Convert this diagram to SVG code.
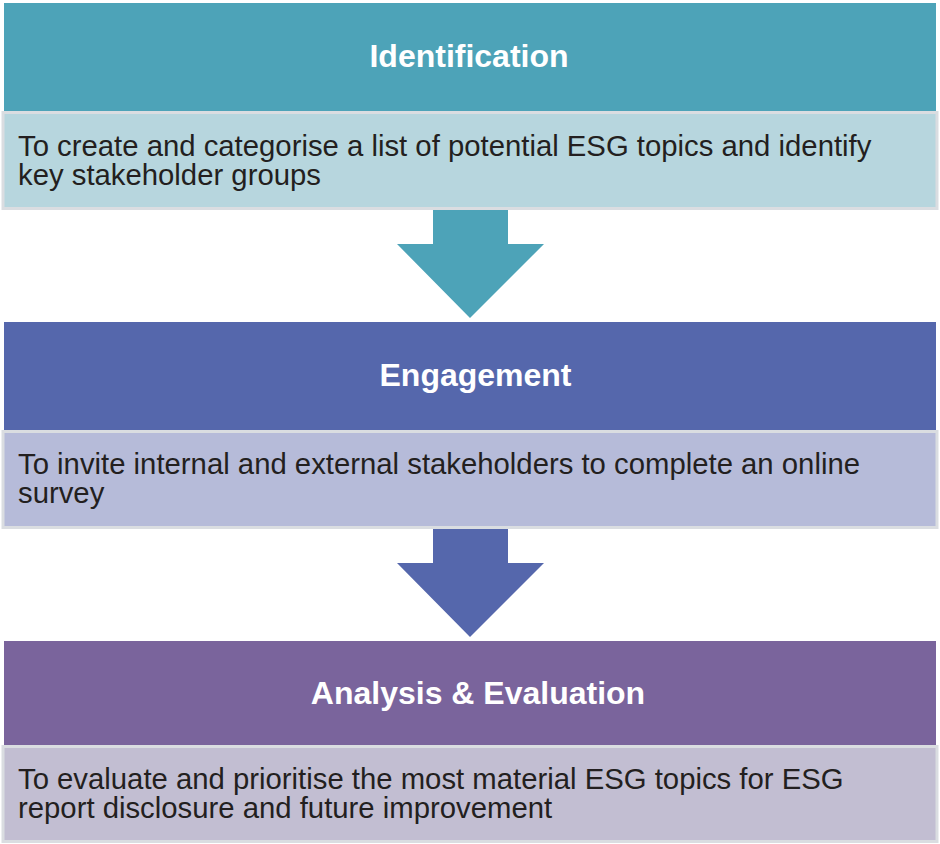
<svg xmlns="http://www.w3.org/2000/svg" width="940" height="844" viewBox="0 0 940 844">
<style>
.title{font-family:"Liberation Sans",Arial,sans-serif;font-weight:bold;font-size:32px;fill:#fff;text-anchor:middle}
.desc{font-family:"Liberation Sans",Arial,sans-serif;font-size:29.3px;fill:#231f20}
.dbox{stroke:#dadde1;stroke-width:3}
</style>
<rect width="940" height="844" fill="#fff"/>
<g id="identification">
<rect x="4" y="3" width="932" height="108" fill="#4da3b8"/>
<rect class="dbox" x="3" y="112.5" width="934" height="96" fill="#b7d6de"/>
<text class="title" x="469" y="67">Identification</text>
<text class="desc" x="18" y="156">To create and categorise a list of potential ESG topics and identify</text>
<text class="desc" x="18" y="185">key stakeholder groups</text>
</g>
<g id="engagement">
<rect x="4" y="322" width="932" height="108" fill="#5567ac"/>
<rect class="dbox" x="3" y="431.5" width="934" height="96" fill="#b6bbd9"/>
<text class="title" x="475.5" y="386">Engagement</text>
<text class="desc" x="18" y="474">To invite internal and external stakeholders to complete an online</text>
<text class="desc" x="18" y="503">survey</text>
</g>
<g id="analysis">
<rect x="4" y="641" width="932" height="104" fill="#7a649c"/>
<rect class="dbox" x="3" y="746.5" width="934" height="95" fill="#c2bed2"/>
<text class="title" x="478" y="704">Analysis &amp; Evaluation</text>
<text class="desc" x="18" y="789">To evaluate and prioritise the most material ESG topics for ESG</text>
<text class="desc" x="18" y="818">report disclosure and future improvement</text>
</g>
<g id="connectors">
<polygon points="433,210 508,210 508,244 544,244 470,318 397,244 433,244" fill="#4da3b8"/>
<polygon points="433,529 508,529 508,563 544,563 470,637 397,563 433,563" fill="#5567ac"/>
</g>
</svg>
